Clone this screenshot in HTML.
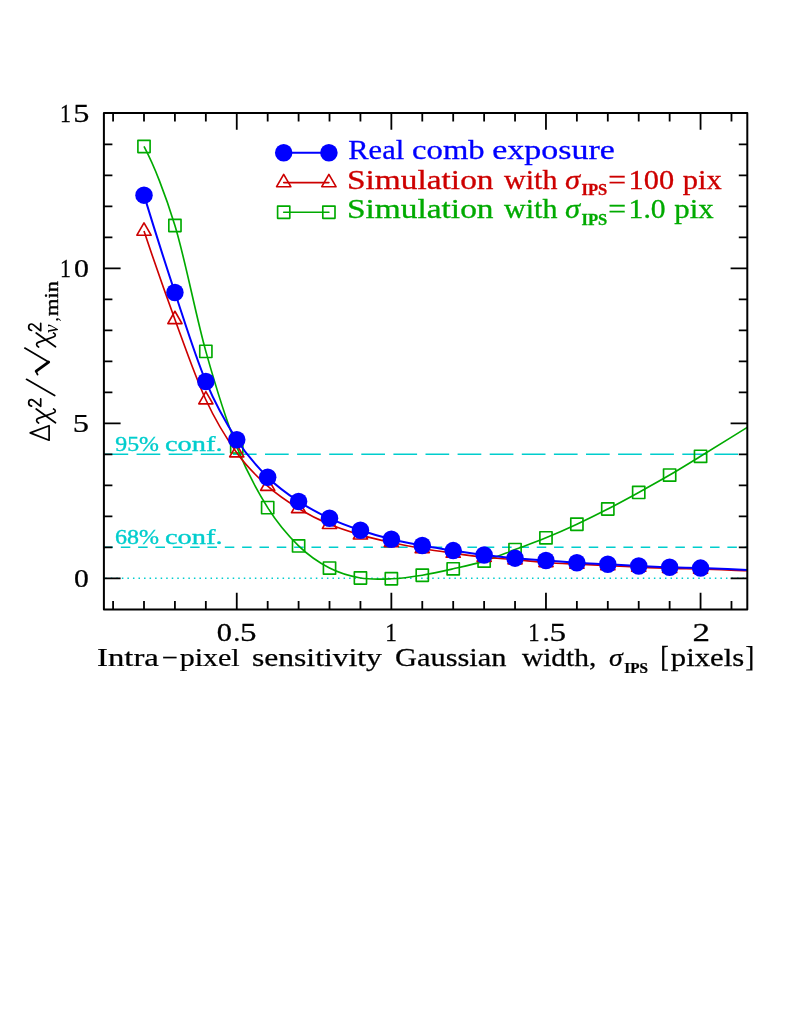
<!DOCTYPE html>
<html>
<head>
<meta charset="utf-8">
<title>IPS chi-square plot</title>
<style>
html,body{margin:0;padding:0;background:#ffffff;}
body{width:789px;height:1021px;overflow:hidden;font-family:"Liberation Serif",serif;}
svg{display:block;will-change:transform;}
</style>
</head>
<body>
<svg width="789" height="1021" viewBox="0 0 789 1021">
<rect x="0" y="0" width="789" height="1021" fill="#ffffff"/>
<g stroke="#00cdcd" fill="none" stroke-width="1.5">
<path d="M104.5 454.3 H747.3" stroke-dasharray="23.7 8.4"/>
<path d="M103.5 547.3 H747.3" stroke-dasharray="9.5 7.83"/>
<path d="M105.24 578.3 H747.3" stroke-dasharray="1.5 4.042"/>
</g>
<g stroke="#00aa00" fill="none" stroke-width="1.65" stroke-linejoin="round">
<path d="M144.00 146.47 C149.15 156.23 154.31 167.70 159.46 180.88 C164.61 194.05 169.77 208.61 174.92 225.52 C185.23 259.34 195.53 314.49 205.84 351.38 C216.15 388.27 226.45 420.82 236.76 446.86 C247.07 472.90 257.37 491.11 267.68 507.62 C277.99 524.13 288.29 535.83 298.60 545.90 C308.91 555.98 319.21 562.72 329.52 568.07 C339.83 573.42 350.13 576.21 360.44 577.99 C370.75 579.77 381.05 579.23 391.36 578.76 C401.67 578.30 411.97 576.86 422.28 575.20 C432.59 573.54 442.89 571.16 453.20 568.81 C463.51 566.46 473.81 564.30 484.12 561.09 C494.43 557.89 504.73 553.47 515.04 549.59 C525.35 545.71 535.65 542.05 545.96 537.81 C556.27 533.58 566.57 529.00 576.88 524.20 C587.19 519.41 597.49 514.31 607.80 509.01 C618.11 503.72 628.41 498.09 638.72 492.43 C649.03 486.77 659.33 481.09 669.64 475.07 C679.95 469.05 690.25 462.63 700.56 456.31 C716.12 446.79 731.69 436.99 747.25 427.33"/>
<rect x="137.90" y="140.37" width="12.2" height="12.2"/>
<rect x="168.82" y="219.42" width="12.2" height="12.2"/>
<rect x="199.74" y="345.28" width="12.2" height="12.2"/>
<rect x="230.66" y="440.76" width="12.2" height="12.2"/>
<rect x="261.58" y="501.52" width="12.2" height="12.2"/>
<rect x="292.50" y="539.80" width="12.2" height="12.2"/>
<rect x="323.42" y="561.97" width="12.2" height="12.2"/>
<rect x="354.34" y="571.89" width="12.2" height="12.2"/>
<rect x="385.26" y="572.66" width="12.2" height="12.2"/>
<rect x="416.18" y="569.10" width="12.2" height="12.2"/>
<rect x="447.10" y="562.71" width="12.2" height="12.2"/>
<rect x="478.02" y="554.99" width="12.2" height="12.2"/>
<rect x="508.94" y="543.49" width="12.2" height="12.2"/>
<rect x="539.86" y="531.71" width="12.2" height="12.2"/>
<rect x="570.78" y="518.10" width="12.2" height="12.2"/>
<rect x="601.70" y="502.91" width="12.2" height="12.2"/>
<rect x="632.62" y="486.33" width="12.2" height="12.2"/>
<rect x="663.54" y="468.97" width="12.2" height="12.2"/>
<rect x="694.46" y="450.21" width="12.2" height="12.2"/>
</g>
<g stroke="#cd0000" fill="none" stroke-width="1.65" stroke-linejoin="round">
<path d="M144.00 231.10 C154.31 261.89 164.61 291.34 174.92 319.45 C185.23 347.56 195.53 377.52 205.84 399.74 C216.15 421.96 226.45 438.33 236.76 452.75 C247.07 467.16 257.37 476.93 267.68 486.23 C277.99 495.53 288.29 502.19 298.60 508.55 C308.91 514.90 319.21 519.97 329.52 524.36 C339.83 528.75 350.13 531.88 360.44 534.90 C370.75 537.92 381.05 540.22 391.36 542.50 C401.67 544.77 411.97 546.76 422.28 548.54 C432.59 550.32 442.89 551.74 453.20 553.19 C463.51 554.64 473.81 556.13 484.12 557.22 C494.43 558.30 504.73 558.82 515.04 559.70 C525.35 560.58 535.65 561.75 545.96 562.49 C556.27 563.23 566.57 563.65 576.88 564.16 C587.19 564.68 597.49 565.09 607.80 565.59 C618.11 566.09 628.41 566.67 638.72 567.14 C649.03 567.61 659.33 568.07 669.64 568.38 C679.95 568.69 690.25 568.73 700.56 569.00 C716.12 569.41 731.69 570.14 747.25 570.70"/>
<path d="M144.00 222.90 L151.10 235.20 L136.90 235.20 Z"/>
<path d="M174.92 311.25 L182.02 323.55 L167.82 323.55 Z"/>
<path d="M205.84 391.54 L212.94 403.84 L198.74 403.84 Z"/>
<path d="M236.76 444.55 L243.86 456.85 L229.66 456.85 Z"/>
<path d="M267.68 478.03 L274.78 490.33 L260.58 490.33 Z"/>
<path d="M298.60 500.35 L305.70 512.65 L291.50 512.65 Z"/>
<path d="M329.52 516.16 L336.62 528.46 L322.42 528.46 Z"/>
<path d="M360.44 526.70 L367.54 539.00 L353.34 539.00 Z"/>
<path d="M391.36 534.29 L398.46 546.60 L384.26 546.60 Z"/>
<path d="M422.28 540.34 L429.38 552.64 L415.18 552.64 Z"/>
<path d="M453.20 544.99 L460.30 557.29 L446.10 557.29 Z"/>
<path d="M484.12 549.02 L491.22 561.32 L477.02 561.32 Z"/>
<path d="M515.04 551.50 L522.14 563.80 L507.94 563.80 Z"/>
<path d="M545.96 554.29 L553.06 566.59 L538.86 566.59 Z"/>
<path d="M576.88 555.96 L583.98 568.26 L569.78 568.26 Z"/>
<path d="M607.80 557.39 L614.90 569.69 L600.70 569.69 Z"/>
<path d="M638.72 558.94 L645.82 571.24 L631.62 571.24 Z"/>
<path d="M669.64 560.18 L676.74 572.48 L662.54 572.48 Z"/>
<path d="M700.56 560.80 L707.66 573.10 L693.46 573.10 Z"/>
</g>
<g stroke="#0000ff" fill="none" stroke-width="2">
<path d="M144.00 195.14 C154.31 228.98 164.61 261.43 174.92 292.48 C185.23 323.53 195.53 356.91 205.84 381.45 C216.15 405.99 226.45 423.76 236.76 439.73 C247.07 455.69 257.37 466.96 267.68 477.24 C277.99 487.52 288.29 494.57 298.60 501.42 C308.91 508.27 319.21 513.51 329.52 518.31 C339.83 523.12 350.13 526.76 360.44 530.25 C370.75 533.74 381.05 536.71 391.36 539.24 C401.67 541.77 411.97 543.55 422.28 545.44 C432.59 547.33 442.89 548.98 453.20 550.59 C463.51 552.19 473.81 553.79 484.12 555.05 C494.43 556.31 504.73 557.24 515.04 558.15 C525.35 559.06 535.65 559.75 545.96 560.51 C556.27 561.27 566.57 562.08 576.88 562.71 C587.19 563.34 597.49 563.74 607.80 564.29 C618.11 564.84 628.41 565.49 638.72 565.99 C649.03 566.49 659.33 566.95 669.64 567.29 C679.95 567.64 690.25 567.75 700.56 568.07 C716.12 568.55 731.69 569.31 747.25 569.93"/>
</g>
<g fill="#0000ff">
<circle cx="144.00" cy="195.14" r="8.75"/>
<circle cx="174.92" cy="292.48" r="8.75"/>
<circle cx="205.84" cy="381.45" r="8.75"/>
<circle cx="236.76" cy="439.73" r="8.75"/>
<circle cx="267.68" cy="477.24" r="8.75"/>
<circle cx="298.60" cy="501.42" r="8.75"/>
<circle cx="329.52" cy="518.31" r="8.75"/>
<circle cx="360.44" cy="530.25" r="8.75"/>
<circle cx="391.36" cy="539.24" r="8.75"/>
<circle cx="422.28" cy="545.44" r="8.75"/>
<circle cx="453.20" cy="550.59" r="8.75"/>
<circle cx="484.12" cy="555.05" r="8.75"/>
<circle cx="515.04" cy="558.15" r="8.75"/>
<circle cx="545.96" cy="560.51" r="8.75"/>
<circle cx="576.88" cy="562.71" r="8.75"/>
<circle cx="607.80" cy="564.29" r="8.75"/>
<circle cx="638.72" cy="565.99" r="8.75"/>
<circle cx="669.64" cy="567.29" r="8.75"/>
<circle cx="700.56" cy="568.07" r="8.75"/>
</g>
<g stroke="#0000ff" stroke-width="2" fill="#0000ff"><path d="M283.7 152.7 H328.9" fill="none"/>
<circle cx="283.7" cy="152.7" r="8.75" stroke="none"/><circle cx="328.9" cy="152.7" r="8.75" stroke="none"/></g>
<g stroke="#cd0000" stroke-width="1.65" stroke-linejoin="round" stroke-linecap="round" fill="none"><path d="M283.7 182.6 H328.9"/>
<path d="M283.70 174.40 L290.80 186.70 L276.60 186.70 Z"/>
<path d="M328.90 174.40 L336.00 186.70 L321.80 186.70 Z"/>
</g>
<g stroke="#00aa00" stroke-width="1.65" stroke-linejoin="round" stroke-linecap="round" fill="none"><path d="M283.7 212.2 H328.9"/>
<rect x="277.60" y="206.10" width="12.2" height="12.2"/>
<rect x="322.80" y="206.10" width="12.2" height="12.2"/>
</g>
<g font-family="'Liberation Serif', serif">
<g fill="#0000ff" stroke="#0000ff" stroke-width="0.3">
<text transform="matrix(1.1118 0 0 1 348.29 159.00)" font-size="27.40px">Real</text>
<text transform="matrix(1.1913 0 0 1 412.08 159.00)" font-size="27.40px">comb</text>
<text transform="matrix(1.2399 0 0 1 492.14 159.00)" font-size="27.40px">exposure</text>
</g>
<g fill="#cd0000" stroke="#cd0000" stroke-width="0.3">
<text transform="matrix(1.2192 0 0 1 346.95 188.60)" font-size="27.40px">Simulation</text>
<text transform="matrix(1.0939 0 0 1 504.10 188.60)" font-size="27.40px">with</text>
<text transform="matrix(1.1133 0 0 1 564.88 188.60)" font-size="27.40px" font-style="italic">&#963;</text>
<text transform="matrix(1.0219 0 0 1 581.56 195.00)" font-size="16.20px" font-weight="bold">IPS</text>
<text transform="matrix(1.1538 0 0 1 608.32 188.60)" font-size="27.40px">=</text>
<text transform="matrix(1.1095 0 0 1 628.54 188.60)" font-size="27.40px">100</text>
<text transform="matrix(1.1124 0 0 1 682.74 188.60)" font-size="27.40px">pix</text>
</g>
<g fill="#00aa00" stroke="#00aa00" stroke-width="0.3">
<text transform="matrix(1.2192 0 0 1 346.95 218.30)" font-size="27.40px">Simulation</text>
<text transform="matrix(1.0939 0 0 1 504.10 218.30)" font-size="27.40px">with</text>
<text transform="matrix(1.1133 0 0 1 564.88 218.30)" font-size="27.40px" font-style="italic">&#963;</text>
<text transform="matrix(1.0219 0 0 1 581.56 224.70)" font-size="16.20px" font-weight="bold">IPS</text>
<text transform="matrix(1.1538 0 0 1 608.32 218.30)" font-size="27.40px">=</text>
<text transform="matrix(1.0803 0 0 1 628.61 218.30)" font-size="27.40px">1.0</text>
<text transform="matrix(1.1241 0 0 1 674.34 218.30)" font-size="27.40px">pix</text>
</g>
</g>
<g fill="#00cdcd" stroke="#00cdcd" stroke-width="0.35" font-family="'Liberation Serif', serif">
<text transform="matrix(1.1369 0 0 1 115.22 451.40)" font-size="21.00px">95%</text>
<text transform="matrix(1.3531 0 0 1 164.93 451.40)" font-size="21.00px">conf.</text>
<text transform="matrix(1.1434 0 0 1 114.98 544.30)" font-size="21.00px">68%</text>
<text transform="matrix(1.3531 0 0 1 164.93 544.30)" font-size="21.00px">conf.</text>
</g>
<g stroke="#000" fill="none" stroke-width="1.8" stroke-linecap="butt" stroke-linejoin="round">
<rect x="103.9" y="113.0" width="643.4" height="496.5" stroke-width="2"/>
<path d="M113.08 609.5V601.0M113.08 113.0V121.5M144.00 609.5V601.0M144.00 113.0V121.5M174.92 609.5V601.0M174.92 113.0V121.5M205.84 609.5V601.0M205.84 113.0V121.5M236.76 609.5V592.8M236.76 113.0V129.7M267.68 609.5V601.0M267.68 113.0V121.5M298.60 609.5V601.0M298.60 113.0V121.5M329.52 609.5V601.0M329.52 113.0V121.5M360.44 609.5V601.0M360.44 113.0V121.5M391.36 609.5V592.8M391.36 113.0V129.7M422.28 609.5V601.0M422.28 113.0V121.5M453.20 609.5V601.0M453.20 113.0V121.5M484.12 609.5V601.0M484.12 113.0V121.5M515.04 609.5V601.0M515.04 113.0V121.5M545.96 609.5V592.8M545.96 113.0V129.7M576.88 609.5V601.0M576.88 113.0V121.5M607.80 609.5V601.0M607.80 113.0V121.5M638.72 609.5V601.0M638.72 113.0V121.5M669.64 609.5V601.0M669.64 113.0V121.5M700.56 609.5V592.8M700.56 113.0V129.7M731.48 609.5V601.0M731.48 113.0V121.5M103.9 578.30H120.6M747.3 578.30H730.6M103.9 547.30H112.4M747.3 547.30H738.8M103.9 516.30H112.4M747.3 516.30H738.8M103.9 485.30H112.4M747.3 485.30H738.8M103.9 454.30H112.4M747.3 454.30H738.8M103.9 423.30H120.6M747.3 423.30H730.6M103.9 392.30H112.4M747.3 392.30H738.8M103.9 361.30H112.4M747.3 361.30H738.8M103.9 330.30H112.4M747.3 330.30H738.8M103.9 299.30H112.4M747.3 299.30H738.8M103.9 268.30H120.6M747.3 268.30H730.6M103.9 237.30H112.4M747.3 237.30H738.8M103.9 206.30H112.4M747.3 206.30H738.8M103.9 175.30H112.4M747.3 175.30H738.8M103.9 144.30H112.4M747.3 144.30H738.8"/>
</g>
<g fill="#000" stroke="#000" stroke-width="0.25" font-family="'Liberation Serif', serif">
<text transform="matrix(0.8533 0 0 1 59.89 121.90)" font-size="25.60px">1</text>
<text transform="matrix(1.2616 0 0 1 73.14 121.90)" font-size="25.60px">5</text>
<text transform="matrix(0.8533 0 0 1 59.89 276.90)" font-size="25.60px">1</text>
<text transform="matrix(1.1673 0 0 1 73.98 276.90)" font-size="25.60px">0</text>
<text transform="matrix(1.2714 0 0 1 72.73 431.90)" font-size="25.60px">5</text>
<text transform="matrix(1.1581 0 0 1 73.99 586.90)" font-size="25.60px">0</text>
<text transform="matrix(1.1857 0 0 1 216.86 641.00)" font-size="25.60px">0</text>
<text transform="matrix(1.1068 0 0 1 233.26 641.00)" font-size="25.60px">.</text>
<text transform="matrix(1.2908 0 0 1 240.00 641.00)" font-size="25.60px">5</text>
<text transform="matrix(0.9087 0 0 1 385.36 641.00)" font-size="25.60px">1</text>
<text transform="matrix(0.8865 0 0 1 528.31 641.00)" font-size="25.60px">1</text>
<text transform="matrix(1.1393 0 0 1 542.40 641.00)" font-size="25.60px">.</text>
<text transform="matrix(1.3005 0 0 1 549.39 641.00)" font-size="25.60px">5</text>
<text transform="matrix(1.3672 0 0 1 692.42 641.00)" font-size="25.60px">2</text>
</g>
<g fill="#000" stroke="#000" stroke-width="0.25" font-family="'Liberation Serif', serif">
<text transform="matrix(1.2902 0 0 1 97.05 665.60)" font-size="25.40px">Intra</text>
<text transform="matrix(1.1261 0 0 1 161.87 665.60)" font-size="25.40px">&#8722;</text>
<text transform="matrix(1.1821 0 0 1 179.65 665.60)" font-size="25.40px">pixel</text>
<text transform="matrix(1.2447 0 0 1 251.94 665.60)" font-size="25.40px">sensitivity</text>
<text transform="matrix(1.1986 0 0 1 394.98 665.60)" font-size="25.40px">Gaussian</text>
<text transform="matrix(1.1595 0 0 1 521.90 665.60)" font-size="25.40px">width,</text>
<text transform="matrix(1.0976 0 0 1 608.96 665.60)" font-size="25.40px" font-style="italic">&#963;</text>
<text transform="matrix(1.1016 0 0 1 624.31 672.60)" font-size="13.80px" font-weight="bold">IPS</text>
<text transform="matrix(0.8864 0 0 1 660.28 666.20)" font-size="28.90px">[</text>
<text transform="matrix(1.2093 0 0 1 670.84 665.60)" font-size="25.40px">pixels</text>
<text transform="matrix(0.9381 0 0 1 745.15 666.20)" font-size="28.90px">]</text>
</g>
<g transform="translate(0,445) rotate(-90)" fill="none" stroke="#000" stroke-width="1.7" stroke-linecap="round" stroke-linejoin="round">
<path d="M4.8 49.1 L12.1 30.2 L19.3 49.1 Z"/>
<path d="M22.0 38.6 C23.2 36.4 25.6 35.6 26.6 38.2 L32.0 53.4 C32.8 56.0 35.0 55.8 36.0 53.6"/>
<path d="M36.0 36.2 L22.2 55.5"/>
<path d="M38.9 31.6 C39.4 27.7 45.4 27.7 45.4 31.6 C45.4 33.8 42.2 35.8 38.7 40.7 L46.1 40.7"/>
<path d="M49.5 54.7 L65.7 26.5"/>
<path d="M70.4 37.6 L73.6 36.0"/>
<path d="M73.8 36.2 L82.9 48.6" stroke-width="2.9"/>
<path d="M82.9 48.6 L96.9 24.8"/>
<path d="M98.0 38.6 C99.2 36.4 101.6 35.6 102.6 38.2 L108.0 53.4 C108.8 56.0 111.0 55.8 112.0 53.6"/>
<path d="M112.0 36.2 L98.2 55.5"/>
<path d="M114.5 31.6 C115.0 27.7 121.0 27.7 121.0 31.6 C121.0 33.8 117.8 35.8 114.3 40.7 L121.7 40.7"/>
</g>
<g transform="translate(0,445) rotate(-90)" fill="#000" font-family="'Liberation Serif', serif" font-size="19px">
<text x="111.9" y="58.3" font-style="italic" font-size="21.5px" textLength="8.6" lengthAdjust="spacingAndGlyphs">&#957;</text>
<text x="123.2" y="57.6">,</text>
<text x="129.0" y="58.3" textLength="34.9" lengthAdjust="spacingAndGlyphs" stroke="#000" stroke-width="0.35">min</text>
</g>
</svg>
</body>
</html>
